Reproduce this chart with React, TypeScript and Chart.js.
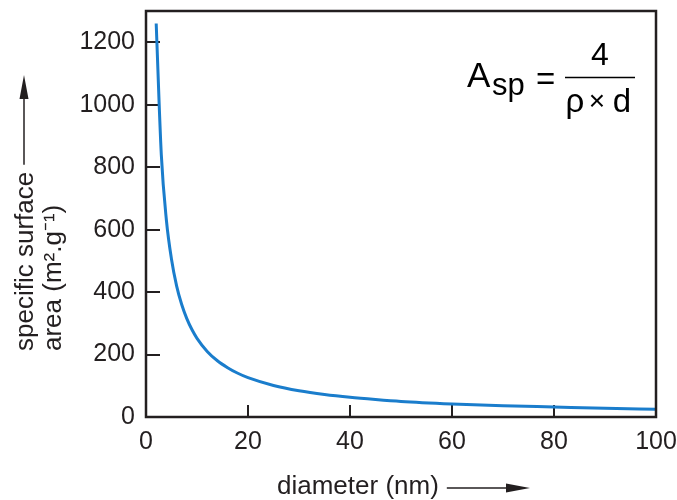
import React, { useEffect, useRef } from "react";
import { Chart, registerables } from "chart.js";

Chart.register(...registerables);

// Data
const diameters = [2, 3, 4, 5, 6, 7, 8, 9, 10, 12, 14, 16, 18, 20, 25, 30, 35, 40, 45, 50, 60, 70, 80, 90, 100];
const areas = [1260, 840, 630, 505, 420, 360, 315, 280, 252, 210, 180, 158, 140, 126, 101, 84, 72, 63, 56, 50, 42, 36, 32, 28, 25];
const xTicks = [0, 20, 40, 60, 80, 100];
const yTicks = [0, 200, 400, 600, 800, 1000, 1200];

const xTitle = "diameter (nm)";
const yTitleLine1 = "specific surface";
const yTitleLine2 = "area (m\u00B2.g\u207B\u00B9)";

const INK = "#231f20";
const BLUE = "#1a7dcc";
const FONT = "Liberation Sans";

const decorPlugin = {
  id: "decor",
  afterDraw(chart: any) {
    const { ctx, chartArea } = chart;
    const { left, right, top, bottom } = chartArea;
    ctx.save();
    // frame
    ctx.strokeStyle = INK;
    ctx.lineWidth = 2.5;
    ctx.strokeRect(left, top, right - left, bottom - top);

    ctx.fillStyle = INK;
    // x title + arrow
    ctx.font = `26px ${FONT}`;
    ctx.textAlign = "left";
    ctx.textBaseline = "middle";
    const xtX = 277;
    const xtY = 487;
    ctx.fillText(xTitle, xtX, xtY);
    const xw = ctx.measureText(xTitle).width;
    const ax0 = xtX + xw + 8;
    const ax1 = 530;
    ctx.lineWidth = 1.5;
    ctx.beginPath();
    ctx.moveTo(ax0, xtY + 1);
    ctx.lineTo(ax1 - 20, xtY + 1);
    ctx.stroke();
    ctx.beginPath();
    ctx.moveTo(ax1, xtY + 1);
    ctx.lineTo(ax1 - 24, xtY + 1 - 4.5);
    ctx.lineTo(ax1 - 24, xtY + 1 + 4.5);
    ctx.closePath();
    ctx.fill();

    // y title (rotated) + arrow
    ctx.font = `26px ${FONT}`;
    const yBase = 351;
    ctx.save();
    ctx.translate(26, yBase);
    ctx.rotate(-Math.PI / 2);
    ctx.textAlign = "left";
    ctx.textBaseline = "middle";
    ctx.fillText(yTitleLine1, 0, 0);
    const yw = ctx.measureText(yTitleLine1).width;
    ctx.restore();
    ctx.save();
    ctx.translate(54, yBase);
    ctx.rotate(-Math.PI / 2);
    ctx.textAlign = "left";
    ctx.textBaseline = "middle";
    ctx.fillText(yTitleLine2, 0, 0);
    ctx.restore();
    const ay0 = yBase - yw - 7;
    const ayTip = 75;
    ctx.lineWidth = 1.5;
    ctx.beginPath();
    ctx.moveTo(24, ay0);
    ctx.lineTo(24, ayTip + 20);
    ctx.stroke();
    ctx.beginPath();
    ctx.moveTo(24, ayTip);
    ctx.lineTo(24 - 4.5, ayTip + 24);
    ctx.lineTo(24 + 4.5, ayTip + 24);
    ctx.closePath();
    ctx.fill();

    // formula
    ctx.fillStyle = "#000";
    ctx.textBaseline = "alphabetic";
    ctx.textAlign = "left";
    ctx.font = `35px ${FONT}`;
    ctx.fillText("A", 467, 87);
    ctx.font = `31px ${FONT}`;
    ctx.fillText("sp", 492, 95);
    ctx.font = `33px ${FONT}`;
    ctx.fillText("=", 536, 90);
    ctx.strokeStyle = "#000";
    ctx.lineWidth = 1.5;
    ctx.beginPath();
    ctx.moveTo(565, 77.5);
    ctx.lineTo(635, 77.5);
    ctx.stroke();
    ctx.textAlign = "center";
    ctx.font = `32px ${FONT}`;
    ctx.fillText("4", 600, 65);
    ctx.font = `33px ${FONT}`;
    ctx.fillText("\u03C1", 575, 112);
    ctx.font = `28px ${FONT}`;
    ctx.fillText("\u00D7", 597, 110);
    ctx.font = `33px ${FONT}`;
    ctx.fillText("d", 622, 112);
    ctx.restore();
  },
};

const zeroPad = (s: any) => {
  s.paddingTop = 0;
  s.paddingBottom = 0;
  s.paddingLeft = 0;
  s.paddingRight = 0;
};

export default function App() {
  const ref = useRef<HTMLCanvasElement | null>(null);
  useEffect(() => {
    document.body.style.margin = "0";
    if (!ref.current) return;
    const chart = new Chart(ref.current, {
      type: "line",
      data: {
        datasets: [
          {
            data: diameters.map((d, i) => ({ x: d, y: areas[i] })),
            borderColor: BLUE,
            borderWidth: 3,
            pointRadius: 0,
            cubicInterpolationMode: "monotone",
            fill: false,
          },
        ],
      },
      options: {
        animation: false,
        responsive: false,
        events: [],
        layout: { padding: { top: 11, right: 21, left: 0, bottom: 0 } },
        plugins: { legend: { display: false }, tooltip: { enabled: false } },
        scales: {
          x: {
            type: "linear",
            min: 0,
            max: 100,
            afterBuildTicks: (s: any) => {
              s.ticks = xTicks.map((v) => ({ value: v }));
            },
            afterFit: (s: any) => {
              s.height = 83;
              zeroPad(s);
            },
            border: { display: false },
            grid: {
              drawOnChartArea: false,
              drawTicks: true,
              tickLength: -12,
              color: INK,
              lineWidth: 2,
            },
            ticks: {
              color: INK,
              font: { family: FONT, size: 25 },
              padding: 22,
              maxRotation: 0,
              callback: (v: any) => String(v),
            },
          },
          y: {
            type: "linear",
            min: 0,
            max: 1300,
            afterBuildTicks: (s: any) => {
              s.ticks = yTicks.map((v) => ({ value: v }));
            },
            afterFit: (s: any) => {
              s.width = 146;
              zeroPad(s);
            },
            border: { display: false },
            grid: {
              drawOnChartArea: false,
              drawTicks: true,
              tickLength: -14,
              color: INK,
              lineWidth: 2,
            },
            ticks: {
              color: INK,
              font: { family: FONT, size: 25 },
              padding: 25,
              callback: (v: any) => String(v),
            },
          },
        },
      },
      plugins: [decorPlugin],
    } as any);
    return () => chart.destroy();
  }, []);
  return (
    <div style={{ width: 677, height: 500, background: "#fff" }}>
      <canvas ref={ref} width={677} height={500} style={{ display: "block" }} />
    </div>
  );
}
